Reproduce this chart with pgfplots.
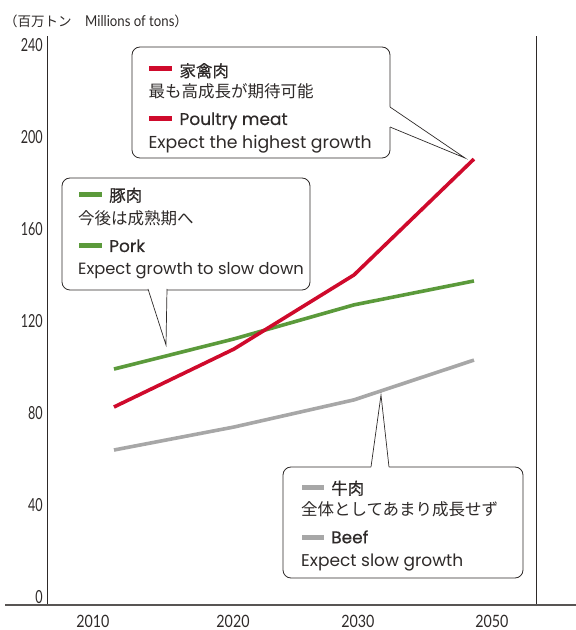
\documentclass[border=0pt]{standalone}
\usepackage{pgfplots}
\pgfplotsset{compat=1.18}
\usepackage{fontspec}
\setmainfont{Poppins}
\newfontfamily\jp{Noto Sans CJK JP}
\newfontfamily\jph[FakeBold=0.4]{Noto Sans CJK JP}
\newfontfamily\enh[FakeBold=0.4]{Poppins}
\newfontfamily\numy[FakeStretch=0.7]{Lato}
\newfontfamily\numx[FakeStretch=0.84]{Lato}
\newfontfamily\ttl[FakeStretch=0.88]{Lato}
\definecolor{txt}{HTML}{2E2A29}
\definecolor{poul}{HTML}{CF0A2C}
\definecolor{pork}{HTML}{5B9A3B}
\definecolor{beef}{HTML}{A7A7A7}
\begin{document}
\begin{tikzpicture}[x=1pt,y=1pt]
\begin{axis}[
  at={(47pt,25pt)}, anchor=south west,
  scale only axis, width=489pt, height=569pt,
  xmin=-0.558, xmax=3.517, ymin=-3.48, ymax=243.9,
  axis lines=left, axis line style={draw=none},
  xtick={-0.175,0.992,2.033,3.15}, xticklabels={2010,2020,2030,2050},
  ytick={0,40,80,120,160,200,240}, yticklabels={0,40,80,120,160,200,240},
  major tick length=0pt,
  yticklabel style={font=\numy\fontsize{18}{18}\selectfont, text=txt, anchor=east, inner sep=0pt, xshift=-4pt},
  xticklabel style={font=\numx\fontsize{17}{17}\selectfont, text=txt, anchor=north, inner sep=0pt, yshift=-10pt},
  clip=false,
]
\addplot[beef, line width=3.6pt] coordinates {(0,63.9) (1,73.9) (2,85.7) (3,103.0)};
\addplot[pork, line width=3.6pt] coordinates {(0,99.1) (1,112.2) (2,127.0) (3,137.4)};
\addplot[poul, line width=3.6pt] coordinates {(0,82.6) (1,107.8) (2,140.0) (3,190.4)};
\end{axis}
% frame lines
\draw[txt, line width=0.9pt] (47,25) -- (47,594);
\draw[txt, line width=0.9pt] (536,25) -- (536,594);
\draw[txt!80, line width=1.1pt] (5,25) -- (576,25);
% title
\node[anchor=base west, inner sep=0pt, text=txt] at (4,603.3) {\jp\fontsize{13.5}{13.5}\selectfont （百万トン　\ttl\fontsize{15}{15}\selectfont Millions of tons\jp\fontsize{13.5}{13.5}\selectfont ）};
\tikzset{bx/.style={draw=txt, line width=0.8pt, rounded corners=8pt, fill=white},
  pt/.style={draw=txt, line width=0.7pt},
  tx/.style={anchor=base west, inner sep=0pt, text=txt}}
% Poultry callout
\filldraw[bx] (132,472) rectangle (390,583);
\fill[white] (386,523) -- (390,523) -- (465,472) -- (390,503) -- (386,503) -- cycle;
\draw[pt] (390,523) -- (465,472) -- (390,503);
\draw[poul, line width=5pt] (149,561.7) -- (172,561.7);
\node[tx] at (179.3,553) {\jph\fontsize{16.5}{16.5}\selectfont 家禽肉};
\node[tx] at (148.3,532) {\jp\fontsize{16.5}{16.5}\selectfont 最も高成長が期待可能};
\draw[poul, line width=5pt] (149,511) -- (172,511);
\node[tx] at (179.3,505) {\enh\fontsize{17}{17}\selectfont Poultry meat};
\node[tx] at (148.3,481.7) {\fontsize{17.3}{17.3}\selectfont Expect the highest growth};
% Pork callout
\filldraw[bx] (62,340) rectangle (310,452);
\fill[white] (148,344) -- (148,341) -- (166,285) -- (167,341) -- (167,344) -- cycle;
\draw[pt] (148,341) -- (166,285) -- (167,341);
\draw[pork, line width=5pt] (79,435) -- (102,435);
\node[tx] at (109,428.5) {\jph\fontsize{16.5}{16.5}\selectfont 豚肉};
\node[tx] at (78,405.5) {\jp\fontsize{16.5}{16.5}\selectfont 今後は成熟期へ};
\draw[pork, line width=5pt] (79,384) -- (102,384);
\node[tx] at (109,378) {\enh\fontsize{17}{17}\selectfont Pork};
\node[tx] at (78,355) {\fontsize{16.3}{16.3}\selectfont Expect growth to slow down};
% Beef callout
\filldraw[bx] (283,52) rectangle (523,163);
\fill[white] (371,160) -- (371,163) -- (381,235) -- (389,163) -- (389,160) -- cycle;
\draw[pt] (371,163) -- (381,235) -- (389,163);
\draw[beef, line width=5pt] (302,142.7) -- (324,142.7);
\node[tx] at (331,135.5) {\jph\fontsize{16.5}{16.5}\selectfont 牛肉};
\node[tx] at (301,114.5) {\jp\fontsize{16.5}{16.5}\selectfont 全体としてあまり成長せず};
\draw[beef, line width=5pt] (302,92.3) -- (324,92.3);
\node[tx] at (331,86.7) {\enh\fontsize{17}{17}\selectfont Beef};
\node[tx] at (301,63.3) {\fontsize{17}{17}\selectfont Expect slow growth};
\pgfresetboundingbox
\useasboundingbox (0,0) rectangle (576,630);
\end{tikzpicture}
\end{document}
